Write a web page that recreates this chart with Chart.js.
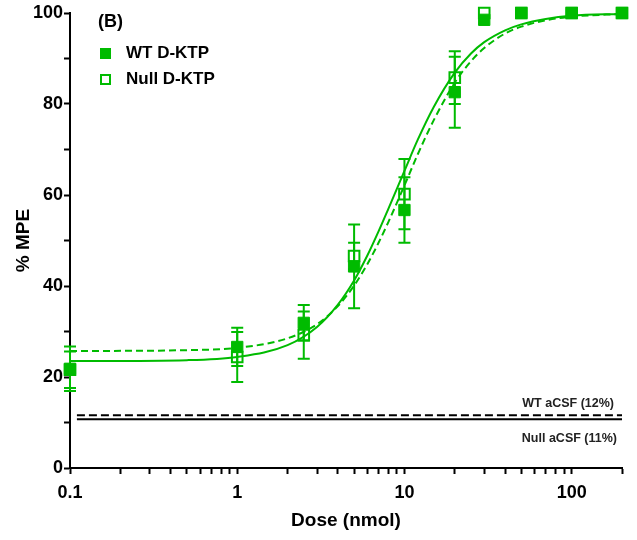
<!DOCTYPE html>
<html>
<head>
<meta charset="utf-8">
<script src="https://cdn.jsdelivr.net/npm/chart.js@4.4.1/dist/chart.umd.min.js"></script>
<style>
  body { margin: 0; background: #fff; }
</style>
</head>
<body>
<canvas id="grafico" width="637" height="540"></canvas>
<script>
// doses (nmol) of the measured points
const doses = [0.1, 1, 2.5, 5, 10, 20, 30, 50, 100, 200];
const wtMean = [21.8, 26.6, 31.9, 44.3, 56.7, 82.6, 98.5, 100, 100, 100];
const wtErr = [4.9, 4.2, 3.9, 9.2, 7.2, 7.8, 0, 0, 0, 0];
const nullMean = [21.6, 24.4, 29.2, 46.6, 60.2, 85.8, 100, 100, 100, 100];
const nullErr = [4.0, 5.5, 5.2, 2.9, 7.7, 5.8, 0, 0, 0, 0];

// fitted curves
const curveDoses = [0.1, 0.5, 1, 2, 3, 4, 5, 6, 7, 8, 10, 12, 15, 20, 25, 30, 40, 50, 70, 100, 200];
const wtCurve = [23.5, 23.7, 24.4, 27.0, 31.0, 35.9, 41.2, 46.7, 52.0, 56.9, 65.3, 72.1, 79.4, 86.9, 91.1, 93.6, 96.2, 97.5, 98.7, 99.4, 99.8];
const nullCurve = [25.7, 25.9, 26.4, 28.5, 31.6, 35.6, 40.1, 44.8, 49.5, 54.0, 62.1, 68.9, 76.5, 84.7, 89.4, 92.3, 95.5, 97.0, 98.4, 99.2, 99.8];

// aCSF baselines
const acsfDoses = [0.11, 200];
const wtAcsf = [11.6, 11.6];
const nullAcsf = [10.7, 10.7];

// ticks
const xTicks = [0.1, 0.2, 0.3, 0.4, 0.5, 0.6, 0.7, 0.8, 0.9, 1, 2, 3, 4, 5, 6, 7, 8, 9, 10,
  20, 30, 40, 50, 60, 70, 80, 90, 100, 200];
const xTickLabels = [0.1, 1, 10, 100];
const yTickLabels = [0, 20, 40, 60, 80, 100];

const verde = '#00bb00';
const fonte = "'Liberation Sans', Arial, sans-serif";

function pontos(xs, ys) {
    return xs.map((x, i) => ({ x: x, y: ys[i] }));
}

// barras de erro, desenhadas antes dos quadrados
const barrasErro = {
    id: 'barrasErro',
    beforeDatasetDraw(chart, args) {
        if (args.index !== 4) return;
        const sx = chart.scales.x, sy = chart.scales.y, ctx = chart.ctx;
        ctx.save();
        ctx.strokeStyle = verde;
        ctx.lineWidth = 2;
        [[wtMean, wtErr], [nullMean, nullErr]].forEach(([m, e]) => {
            doses.forEach((d, i) => {
                if (!e[i]) return;
                const px = sx.getPixelForValue(d);
                const top = sy.getPixelForValue(m[i] + e[i]);
                const bot = sy.getPixelForValue(m[i] - e[i]);
                ctx.beginPath();
                ctx.moveTo(px, top); ctx.lineTo(px, bot);
                ctx.moveTo(px - 6, top); ctx.lineTo(px + 6, top);
                ctx.moveTo(px - 6, bot); ctx.lineTo(px + 6, bot);
                ctx.stroke();
            });
        });
        ctx.restore();
    }
};

// legenda e rótulos das linhas de aCSF
const textos = {
    id: 'textos',
    afterDraw(chart) {
        const ctx = chart.ctx, area = chart.chartArea, sy = chart.scales.y;
        ctx.save();
        ctx.fillStyle = '#000';
        ctx.textBaseline = 'middle';
        ctx.font = 'bold 18px ' + fonte;
        ctx.fillText('(B)', area.left + 28, area.top + 9);

        ctx.font = 'bold 17px ' + fonte;
        ctx.fillText('WT D-KTP', area.left + 56, area.top + 40);
        ctx.fillText('Null D-KTP', area.left + 56, area.top + 66);
        ctx.fillStyle = verde;
        ctx.fillRect(area.left + 30, area.top + 35, 11, 11);
        ctx.strokeStyle = verde;
        ctx.lineWidth = 2;
        ctx.strokeRect(area.left + 31, area.top + 62, 9, 9);

        ctx.fillStyle = '#222';
        ctx.font = 'bold 12.5px ' + fonte;
        ctx.textAlign = 'right';
        ctx.fillText('WT aCSF (12%)', area.right - 8, sy.getPixelForValue(wtAcsf[0]) - 12);
        ctx.fillText('Null aCSF (11%)', area.right - 5, sy.getPixelForValue(nullAcsf[0]) + 19);
        ctx.restore();
    }
};

const ctx = document.getElementById('grafico').getContext('2d');

new Chart(ctx, {
    type: 'line',
    data: {
        datasets: [
            {
                label: 'WT aCSF',
                data: pontos(acsfDoses, wtAcsf),
                borderColor: '#000',
                borderWidth: 2,
                borderDash: [8, 4],
                pointRadius: 0,
                order: 10
            },
            {
                label: 'Null aCSF',
                data: pontos(acsfDoses, nullAcsf),
                borderColor: '#000',
                borderWidth: 2,
                pointRadius: 0,
                order: 10
            },
            {
                label: 'WT fit',
                data: pontos(curveDoses, wtCurve),
                borderColor: verde,
                borderWidth: 2,
                pointRadius: 0,
                cubicInterpolationMode: 'monotone',
                order: 5
            },
            {
                label: 'Null fit',
                data: pontos(curveDoses, nullCurve),
                borderColor: verde,
                borderWidth: 2,
                borderDash: [7, 4],
                pointRadius: 0,
                cubicInterpolationMode: 'monotone',
                order: 5
            },
            {
                label: 'Null D-KTP',
                data: pontos(doses, nullMean),
                showLine: false,
                pointStyle: 'rect',
                pointRadius: 7.5,
                pointBorderWidth: 2,
                pointBorderColor: verde,
                pointBackgroundColor: 'rgba(0,0,0,0)',
                clip: false,
                order: 2
            },
            {
                label: 'WT D-KTP',
                data: pontos(doses, wtMean),
                showLine: false,
                pointStyle: 'rect',
                pointRadius: 8,
                pointBorderWidth: 1,
                pointBorderColor: verde,
                pointBackgroundColor: verde,
                clip: false,
                order: 1
            }
        ]
    },
    options: {
        responsive: false,
        animation: false,
        layout: { padding: { top: 13, right: 15, left: 0, bottom: 0 } },
        plugins: {
            legend: { display: false },
            tooltip: { enabled: false }
        },
        scales: {
            x: {
                type: 'logarithmic',
                min: 0.1,
                max: 200,
                afterBuildTicks: (s) => { s.ticks = xTicks.map(v => ({ value: v })); },
                afterFit: (s) => { s.height = 72; },
                border: { color: '#000', width: 2 },
                grid: { drawOnChartArea: false, color: '#000', tickLength: 6, tickWidth: 2 },
                ticks: {
                    autoSkip: false,
                    maxRotation: 0,
                    padding: 8,
                    color: '#000',
                    font: { family: fonte, size: 18, weight: 'bold' },
                    callback: (v) => xTickLabels.includes(v) ? String(v) : ''
                },
                title: {
                    display: true,
                    text: 'Dose (nmol)',
                    color: '#000',
                    font: { family: fonte, size: 19, weight: 'bold' },
                    padding: { top: 0, bottom: 8 }
                }
            },
            y: {
                min: 0,
                max: 100,
                afterFit: (s) => { s.width = 70; },
                border: { color: '#000', width: 2 },
                grid: { drawOnChartArea: false, color: '#000', tickLength: 6, tickWidth: 2 },
                ticks: {
                    stepSize: 10,
                    padding: 1,
                    color: '#000',
                    font: { family: fonte, size: 18, weight: 'bold' },
                    callback: (v) => yTickLabels.includes(v) ? v : ''
                },
                title: {
                    display: true,
                    text: '% MPE',
                    color: '#000',
                    font: { family: fonte, size: 19, weight: 'bold' },
                    padding: { top: 12, bottom: 0 }
                }
            }
        }
    },
    plugins: [barrasErro, textos]
});
</script>
</body>
</html>
